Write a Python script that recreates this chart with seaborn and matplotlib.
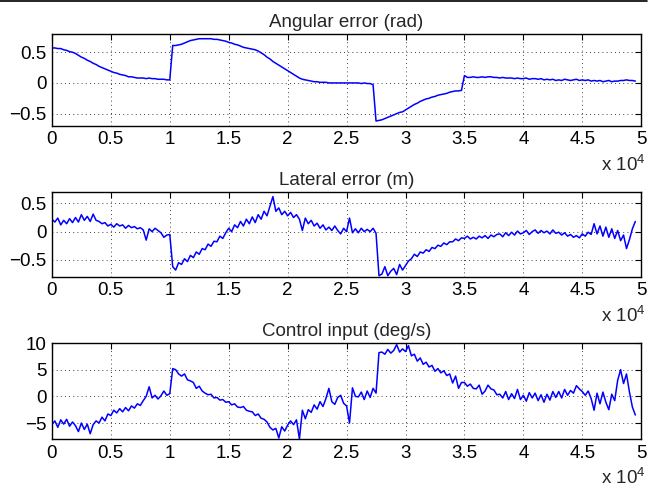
import numpy as np
import matplotlib
matplotlib.use("Agg")
import matplotlib.pyplot as plt
import seaborn as sns
from matplotlib.lines import Line2D

# sample index step 250, 0 .. 49500
step = 250

angular = [
    0.57, 0.57, 0.56, 0.56,
    0.54, 0.53, 0.51, 0.50,
    0.48, 0.45, 0.42, 0.40,
    0.37, 0.35, 0.32, 0.30,
    0.27, 0.25, 0.23, 0.21,
    0.19, 0.17, 0.16, 0.14,
    0.13, 0.12, 0.10, 0.10,
    0.09, 0.08, 0.08, 0.08,
    0.07, 0.08, 0.07, 0.07,
    0.06, 0.06, 0.06, 0.05,
    0.05, 0.61, 0.61, 0.62,
    0.63, 0.65, 0.67, 0.69,
    0.70, 0.71, 0.72, 0.72,
    0.72, 0.72, 0.72, 0.71,
    0.71, 0.70, 0.69, 0.68,
    0.66, 0.65, 0.63, 0.62,
    0.60, 0.58, 0.57, 0.56,
    0.55, 0.54, 0.52, 0.49,
    0.46, 0.42, 0.39, 0.35,
    0.32, 0.29, 0.26, 0.23,
    0.20, 0.17, 0.14, 0.11,
    0.08, 0.06, 0.05, 0.04,
    0.03, 0.02, 0.02, 0.01,
    0.01, 0.01, 0.00, 0.00,
    0.00, 0.00, 0.00, 0.00,
    0.00, 0.00, 0.00, 0.00,
    0.00, -0.01, 0.00, -0.01,
    -0.01, -0.03, -0.62, -0.61,
    -0.60, -0.58, -0.56, -0.54,
    -0.52, -0.50, -0.48, -0.47,
    -0.44, -0.41, -0.38, -0.35,
    -0.33, -0.30, -0.28, -0.26,
    -0.25, -0.23, -0.22, -0.20,
    -0.19, -0.18, -0.17, -0.15,
    -0.14, -0.13, -0.13, -0.12,
    0.12, 0.09, 0.09, 0.10,
    0.09, 0.09, 0.10, 0.09,
    0.10, 0.10, 0.09, 0.09,
    0.08, 0.09, 0.08, 0.08,
    0.08, 0.07, 0.08, 0.07,
    0.07, 0.08, 0.06, 0.07,
    0.07, 0.06, 0.07, 0.05,
    0.06, 0.05, 0.06, 0.04,
    0.05, 0.04, 0.06, 0.05,
    0.04, 0.05, 0.06, 0.04,
    0.05, 0.04, 0.05, 0.03,
    0.04, 0.03, 0.04, 0.02,
    0.03, 0.04, 0.02, 0.03,
    0.03, 0.04, 0.04, 0.05,
    0.04, 0.04, 0.03,
]

lateral = [
    0.22, 0.17, 0.24, 0.12,
    0.20, 0.14, 0.23, 0.16,
    0.25, 0.17, 0.30, 0.20,
    0.27, 0.18, 0.31, 0.20,
    0.18, 0.14, 0.16, 0.10,
    0.13, 0.08, 0.14, 0.10,
    0.12, 0.06, 0.11, 0.07,
    0.09, 0.05, 0.07, 0.03,
    -0.15, 0.05, 0.00, 0.06,
    0.02, -0.02, -0.10, -0.06,
    -0.05, -0.62, -0.68, -0.55,
    -0.58, -0.48, -0.53, -0.42,
    -0.46, -0.36, -0.40, -0.30,
    -0.32, -0.22, -0.26, -0.17,
    -0.18, -0.08, -0.12, -0.02,
    0.06, 0.00, 0.12, 0.07,
    0.18, 0.10, 0.22, 0.14,
    0.26, 0.16, 0.30, 0.22,
    0.36, 0.28, 0.45, 0.62,
    0.36, 0.42, 0.30, 0.36,
    0.28, 0.34, 0.25, 0.30,
    0.22, 0.02, 0.24, 0.14,
    0.20, 0.10, 0.15, 0.06,
    0.12, 0.03, 0.08, 0.02,
    0.10, 0.02, -0.04, 0.06,
    0.00, 0.24, -0.02, 0.05,
    -0.02, 0.06, 0.00, 0.04,
    0.00, 0.06, -0.03, -0.78,
    -0.75, -0.62, -0.78, -0.70,
    -0.65, -0.76, -0.58, -0.68,
    -0.60, -0.52, -0.48, -0.40,
    -0.44, -0.36, -0.38, -0.32,
    -0.35, -0.28, -0.30, -0.24,
    -0.26, -0.20, -0.23, -0.18,
    -0.18, -0.13, -0.16, -0.11,
    -0.12, -0.08, -0.13, -0.10,
    -0.13, -0.08, -0.11, -0.07,
    -0.12, -0.06, -0.09, -0.05,
    -0.04, -0.09, -0.02, -0.07,
    -0.01, -0.06, 0.01, -0.04,
    -0.02, 0.02, -0.05, 0.00,
    0.03, -0.03, 0.02, -0.02,
    0.01, -0.04, 0.03, -0.03,
    -0.01, -0.06, -0.02, -0.08,
    -0.05, -0.10, -0.07, -0.11,
    -0.04, -0.08, -0.01, -0.05,
    0.14, -0.04, 0.10, -0.08,
    0.08, -0.10, 0.05, -0.12,
    0.02, -0.16, -0.06, -0.30,
    -0.14, 0.05, 0.18,
]

control = [
    -5.3, -4.6, -5.8, -4.4,
    -5.2, -4.3, -5.6, -4.8,
    -5.5, -6.6, -5.0, -6.2,
    -5.2, -7.0, -5.3, -4.6,
    -5.0, -3.9, -4.6, -3.3,
    -3.6, -2.6, -3.1, -2.3,
    -2.9, -2.1, -2.7, -1.8,
    -2.2, -1.4, -1.7, -0.8,
    0.0, 1.8, -0.3, 0.2,
    -0.5, 0.1, 1.0, 0.2,
    0.5, 5.2, 5.0, 4.2,
    3.8, 4.2, 3.1, 2.9,
    2.6, 1.5, 1.9, 1.0,
    0.6, 0.3, 0.4, -0.3,
    -0.2, -0.7, -0.6, -1.1,
    -1.0, -1.6, -1.4, -2.0,
    -2.1, -1.9, -2.6, -2.8,
    -2.9, -3.6, -3.3, -4.1,
    -4.3, -4.8, -5.8, -6.3,
    -6.0, -7.8, -5.7, -6.5,
    -5.4, -4.6, -5.3, -4.4,
    -8.0, -2.6, -4.2, -2.5,
    -3.0, -1.6, -2.4, -1.0,
    -1.9, -0.4, 1.5, -1.0,
    -1.5, -0.2, 0.2, -1.3,
    -1.8, -5.0, 1.6, 0.0,
    -0.1, 0.8, -0.6, 1.0,
    -0.2, 1.5, 0.6, 8.2,
    8.3, 7.9, 8.8, 8.1,
    8.6, 9.7, 8.3, 8.9,
    8.4, 9.5, 7.6, 7.9,
    6.6, 7.2, 6.0, 6.4,
    5.5, 5.8, 4.7, 5.2,
    4.4, 4.8, 3.9, 4.2,
    2.5, 3.8, 1.5, 2.6,
    2.6, 1.9, 2.3, 1.5,
    1.4, 2.1, 0.4, 1.0,
    2.1, 1.4, 1.2, 0.3,
    0.4, -0.3, 0.9, -0.6,
    0.5, -0.4, 1.3, -0.6,
    0.2, -0.9, 0.7, -0.3,
    0.6, -0.8, 0.3, -1.1,
    0.4, -0.7, 0.9, -0.2,
    0.9, -0.3, 1.3, 0.2,
    1.1, 0.6, 2.0, 1.4,
    0.9, 0.2, 1.0, -0.4,
    -2.6, 0.6, -1.4, 0.8,
    -1.1, -2.5, 0.4, -0.8,
    3.0, 5.0, 2.4, 4.2,
    0.8, -2.0, -3.5,
]

titles = ["Angular error (rad)", "Lateral error (m)", "Control input (deg/s)"]
ylims = [(-0.7, 0.8), (-0.8, 0.7), (-8, 10)]
yticks = [[-0.5, 0, 0.5], [-0.5, 0, 0.5], [-5, 0, 5, 10]]
ytick_labels = [["\u22120.5", "0", "0.5"], ["\u22120.5", "0", "0.5"], ["\u22125", "0", "5", "10"]]
xticks = [0, 5000, 10000, 15000, 20000, 25000, 30000, 35000, 40000, 45000, 50000]
xtick_labels = ["0", "0.5", "1", "1.5", "2", "2.5", "3", "3.5", "4", "4.5", "5"]

sns.set_style("white")
plt.rcParams['font.family'] = ['Liberation Sans', 'DejaVu Sans']
plt.rcParams['mathtext.fontset'] = 'custom'
plt.rcParams['mathtext.rm'] = 'Liberation Sans'
plt.rcParams['mathtext.it'] = 'Liberation Sans'

fig = plt.figure(figsize=(6.57, 4.9), dpi=100)
boxes = [
    [0.079, 0.743, 0.897, 0.188],
    [0.079, 0.435, 0.897, 0.173],
    [0.079, 0.104, 0.897, 0.196],
]

series = [angular, lateral, control]
for k in range(3):
    ax = fig.add_axes(boxes[k])
    y = np.array(series[k])
    x = np.arange(len(y)) * step
    sns.lineplot(x=x, y=y, ax=ax, color=(0, 0, 1), linewidth=1.1)
    ax.set_xlim(0, 50000)
    ax.set_ylim(*ylims[k])
    ax.set_xticks(xticks)
    ax.set_xticklabels(xtick_labels)
    ax.set_yticks(yticks[k])
    ax.set_yticklabels(ytick_labels[k])
    ax.tick_params(direction="in", length=4, width=0.8, top=True, right=True,
                   labelsize=13.5, pad=4, colors="black")
    ax.grid(True, linestyle=(0, (1, 4)), color="black", linewidth=0.6)
    for s in ax.spines.values():
        s.set_color("black")
        s.set_linewidth(1.0)
    ax.set_title(titles[k], fontsize=13.5, pad=5)
    ax.set_xlabel("")
    ax.set_ylabel("")
    ax.annotate(r"x 10$^{4}$", xy=(1, 0), xycoords="axes fraction",
                xytext=(3, -28), textcoords="offset points",
                ha="right", va="center", fontsize=13.5)

fig.add_artist(Line2D([0, 0.985], [0.998, 0.998], color="black", linewidth=1.2))

fig.savefig("out.png", dpi=100)
